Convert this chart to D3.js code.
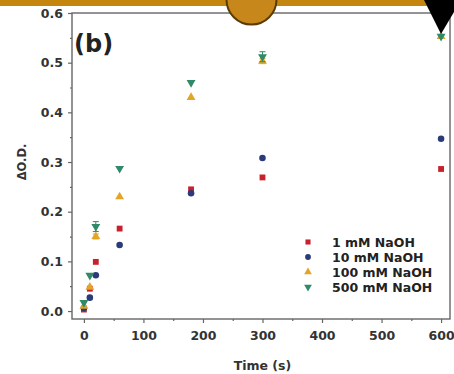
<!DOCTYPE html>
<html><head><meta charset="utf-8">
<script src="https://cdn.jsdelivr.net/npm/d3@7"></script>
<style>body{margin:0;background:#fff}svg{display:block}</style>
</head><body>
<script>
const times = [0, 10, 20, 60, 180, 300, 600];
const seriesNames = ["1 mM NaOH", "10 mM NaOH", "100 mM NaOH", "500 mM NaOH"];
const red1mM    = [0.003, 0.045, 0.099, 0.166, 0.245, 0.269, 0.286];
const blue10mM  = [0.006, 0.027, 0.072, 0.133, 0.237, 0.308, 0.347];
const orange100 = [0.010, 0.048, 0.150, 0.230, 0.430, 0.503, 0.553];
const green500  = [0.017, 0.072, 0.170, 0.287, 0.460, 0.512, 0.553];
const green500Err = [0, 0, 0.010, 0, 0, 0.010, 0];
const orange100Err = [0, 0, 0.005, 0, 0, 0.005, 0];
const xTicks = [0, 100, 200, 300, 400, 500, 600];
const yTicks = [0.0, 0.1, 0.2, 0.3, 0.4, 0.5, 0.6];
const colors = ["#c8202c", "#2b3a78", "#e2a526", "#2f8a68"];
const shapes = [d3.symbolSquare, d3.symbolCircle, d3.symbolTriangle, "down"];

const W = 454, H = 374;
const svg = d3.select("body").append("svg").attr("width", W).attr("height", H);
const font = "'DejaVu Sans', sans-serif";

const x = d3.scaleLinear().domain([-20, 615]).range([72, 450]);
const y = d3.scaleLinear().domain([-0.016, 0.6]).range([319, 13]);

// frame
svg.append("rect").attr("x", 72).attr("y", 13).attr("width", 378).attr("height", 306)
  .attr("fill", "none").attr("stroke", "#666").attr("stroke-width", 1.4);

// axes
const xAxis = svg.append("g").attr("transform", "translate(0,319)")
  .call(d3.axisBottom(x).tickValues(xTicks).tickSize(4).tickPadding(8).tickFormat(d3.format("d")));
const xMinor = svg.append("g").attr("transform", "translate(0,319)")
  .call(d3.axisBottom(x).tickValues(d3.range(50, 600, 100)).tickSize(2).tickFormat(""));
const yAxis = svg.append("g").attr("transform", "translate(72,0)")
  .call(d3.axisLeft(y).tickValues(yTicks).tickSize(4).tickPadding(5).tickFormat(d3.format(".1f")));
const yMinor = svg.append("g").attr("transform", "translate(72,0)")
  .call(d3.axisLeft(y).tickValues(d3.range(0.05, 0.6, 0.1)).tickSize(2).tickFormat(""));
[xAxis, xMinor, yAxis, yMinor].forEach(g => {
  g.select(".domain").remove();
  g.selectAll("line").attr("stroke", "#666").attr("stroke-width", 1.2);
  g.selectAll("text").attr("font-family", font).attr("font-weight", "bold")
    .attr("font-size", 12.5).attr("fill", "#333");
});

// axis titles
svg.append("text").attr("x", x(300)).attr("y", 370).attr("text-anchor", "middle")
  .attr("font-family", font).attr("font-weight", "bold").attr("font-size", 12.5).attr("fill", "#333")
  .text("Time (s)");
svg.append("text").attr("transform", "translate(26,162) rotate(-90)").attr("text-anchor", "middle")
  .attr("font-family", font).attr("font-weight", "bold").attr("font-size", 11.5).attr("fill", "#333")
  .text("ΔO.D.");

// panel label
svg.append("text").attr("x", 74).attr("y", 52).attr("font-family", font).attr("font-weight", "bold")
  .attr("font-size", 24).attr("fill", "#222").text("(b)");

const allSeries = [red1mM, blue10mM, orange100, green500];
const errs = [null, null, orange100Err, green500Err];

function sym(i, size) {
  if (shapes[i] === "down") return d3.symbol().type(d3.symbolTriangle).size(size)();
  return d3.symbol().type(shapes[i]).size(size)();
}

allSeries.forEach((vals, i) => {
  const g = svg.append("g");
  if (errs[i]) {
    times.forEach((t, k) => {
      const e = errs[i][k];
      if (!e) return;
      const cx = x(t);
      g.append("path")
        .attr("d", `M${cx},${y(vals[k]-e)}V${y(vals[k]+e)}M${cx-3},${y(vals[k]-e)}h6M${cx-3},${y(vals[k]+e)}h6`)
        .attr("stroke", colors[i]).attr("stroke-width", 1).attr("fill", "none");
    });
  }
  times.forEach((t, k) => {
    const rot = shapes[i] === "down" ? " rotate(180)" : "";
    g.append("path").attr("d", sym(i, 34))
      .attr("transform", `translate(${x(t)},${y(vals[k])})${rot}`)
      .attr("fill", colors[i]);
  });
});

// legend
const legY = [242, 257, 272, 287];
seriesNames.forEach((name, i) => {
  const rot = shapes[i] === "down" ? " rotate(180)" : "";
  svg.append("path").attr("d", sym(i, 26)).attr("transform", `translate(308,${legY[i]})${rot}`)
    .attr("fill", colors[i]);
  svg.append("text").attr("x", 332).attr("y", legY[i] + 4.5).attr("font-family", font)
    .attr("font-weight", "bold").attr("font-size", 12.5).attr("fill", "#222").text(name);
});

// decorative overlays
svg.append("rect").attr("x", 0).attr("y", 0).attr("width", W).attr("height", 6).attr("fill", "#c4860f");
svg.append("circle").attr("cx", 251.5).attr("cy", -0.5).attr("r", 25)
  .attr("fill", "#c8871a").attr("stroke", "#5a3b05").attr("stroke-width", 2);
svg.append("path").attr("d", "M424,0L454,0L454,12L441,34Z").attr("fill", "#000");
</script>
</body></html>
